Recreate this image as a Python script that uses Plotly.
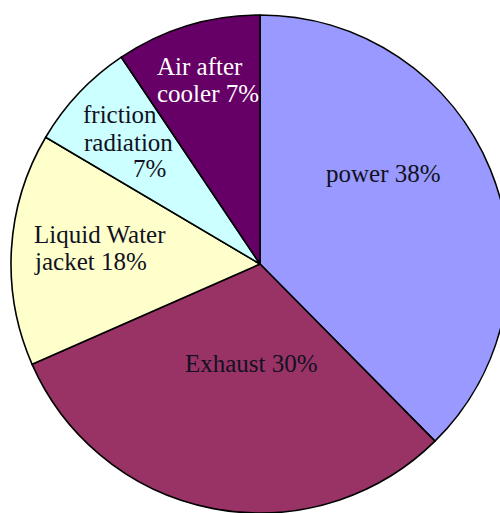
import plotly.graph_objects as go

labels = ["power", "Exhaust", "Liquid Water jacket", "friction radiation", "Air after cooler"]
values = [37.6, 30.8, 15.1, 7.1, 9.4]
shown_pct = [38, 30, 18, 7, 7]
label_lines = [["power 38%"], ["Exhaust 30%"], ["Liquid Water", "jacket 18%"],
               ["friction", "radiation", "7%"], ["Air after", "cooler 7%"]]
colors = ["#9999FF", "#993366", "#FFFFCC", "#CCFFFF", "#660066"]
text_colors = ["#111122", "#111122", "#111122", "#111122", "#FFFFFF"]

W, H = 512, 513
cx, cy, r = 260, 264, 249

fig = go.Figure(go.Pie(
    labels=labels, values=values, sort=False, direction="clockwise", rotation=0,
    marker=dict(colors=colors, line=dict(color="black", width=1.6)),
    textinfo="none", hoverinfo="label+percent", showlegend=False,
    domain=dict(x=[(cx - r) / W, (cx + r) / W], y=[(H - (cy + r)) / H, (H - (cy - r)) / H]),
))

# per-line label placement: (x pixel, x anchor, y pixel centre)
line_pos = [
    [(383, "center", 173)],
    [(251, "center", 363)],
    [(32, "left", 235), (32, "left", 261)],
    [(120, "center", 115), (128, "center", 142), (149, "center", 168)],
    [(155, "left", 67), (155, "left", 93)],
]
for lines, places, tc in zip(label_lines, line_pos, text_colors):
    for txt, (px, xa, py) in zip(lines, places):
        fig.add_annotation(
            x=px / W, y=1 - py / H, xref="paper", yref="paper",
            text=txt, showarrow=False, xanchor=xa, yanchor="middle",
            font=dict(family="Liberation Serif, Times New Roman, serif", size=25, color=tc),
        )

fig.update_layout(width=W, height=H, margin=dict(l=0, r=0, t=0, b=0),
                  paper_bgcolor="white", plot_bgcolor="white")

fig.write_html("out.html", config={"displayModeBar": False},
               post_script="document.body.style.margin='0';document.body.style.overflow='hidden';document.documentElement.style.overflow='hidden';")
